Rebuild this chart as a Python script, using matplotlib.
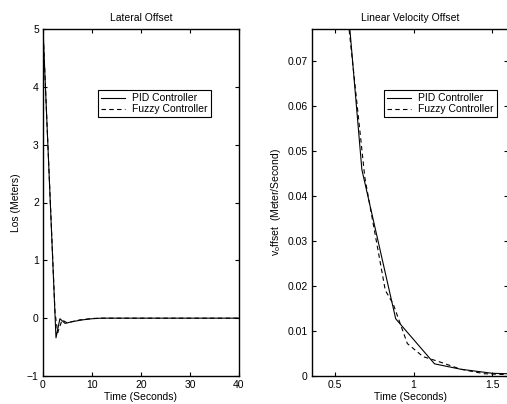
import matplotlib
matplotlib.use('Agg')
import matplotlib.pyplot as plt

plt.rcParams['font.family'] = ['Liberation Sans', 'DejaVu Sans']
plt.rcParams['font.size'] = 7.5
plt.rcParams['mathtext.fontset'] = 'custom'
plt.rcParams['mathtext.rm'] = 'Liberation Sans'

W, H = 507, 404
FS = 7.5

# lateral offset (left panel)
lat_t_pid = [0, 2.65, 3.45, 4.5, 6, 8, 10, 12, 40]
lat_y_pid = [5, -0.34, -0.01, -0.09, -0.06, -0.03, -0.01, 0, 0]
lat_t_fuzzy = [0, 2.45, 3.0, 3.9, 4.9, 7.5, 10, 12, 40]
lat_y_fuzzy = [5, 0.1, -0.25, -0.03, -0.08, -0.03, -0.005, 0, 0]

# linear velocity offset (right panel)
vel_t_pid = [0.45, 0.671, 0.886, 1.133, 1.3, 1.5, 1.6]
vel_y_pid = [0.136, 0.0458, 0.0127, 0.0027, 0.0015, 0.0006, 0.0005]
vel_t_fuzzy = [0.55, 0.69, 0.82, 0.87, 0.96, 1.06, 1.16, 1.3, 1.45, 1.6]
vel_y_fuzzy = [0.090, 0.044, 0.019, 0.016, 0.0072, 0.0043, 0.0032, 0.0015, 0.0005, 0.0003]

labels = ['PID Controller', 'Fuzzy Controller']


def style_axes(ax):
    ax.tick_params(direction='in', top=True, right=True, length=3, width=0.8,
                   labelsize=FS, pad=3)
    for sp in ax.spines.values():
        sp.set_linewidth(1.0)


def add_legend(ax, x0):
    leg = ax.legend(loc='upper left', bbox_to_anchor=(x0, 0.824), fontsize=FS,
                    frameon=True, fancybox=False, edgecolor='k', framealpha=1,
                    handlelength=2.3, borderpad=0.3, labelspacing=0.1,
                    handletextpad=0.7, borderaxespad=0)
    leg.get_frame().set_linewidth(0.8)


fig = plt.figure(figsize=(W / 100, H / 100), dpi=100)

ax1 = fig.add_axes([43 / W, (H - 376) / H, 196 / W, 347 / H])
ax1.plot(lat_t_pid, lat_y_pid, 'k-', lw=0.8, label=labels[0])
ax1.plot(lat_t_fuzzy, lat_y_fuzzy, 'k--', lw=0.8, dashes=(4, 3), label=labels[1])
ax1.set_xlim(0, 40)
ax1.set_ylim(-1, 5)
ax1.set_xticks([0, 10, 20, 30, 40])
ax1.set_yticks([-1, 0, 1, 2, 3, 4, 5])
ax1.set_title('Lateral Offset', fontsize=FS, pad=6)
ax1.set_xlabel('Time (Seconds)', fontsize=FS, labelpad=1)
ax1.set_ylabel('Los (Meters)', fontsize=FS, labelpad=4)
style_axes(ax1)
add_legend(ax1, 0.28)

ax2 = fig.add_axes([312 / W, (H - 376) / H, 196 / W, 347 / H])
ax2.plot(vel_t_pid, vel_y_pid, 'k-', lw=0.8, label=labels[0])
ax2.plot(vel_t_fuzzy, vel_y_fuzzy, 'k--', lw=0.8, dashes=(4, 3), label=labels[1])
ax2.set_xlim(0.354, 1.6)
ax2.set_ylim(0, 0.077)
ax2.set_xticks([0.5, 1, 1.5])
ax2.set_xticklabels(['0.5', '1', '1.5'])
ax2.set_yticks([0, 0.01, 0.02, 0.03, 0.04, 0.05, 0.06, 0.07])
ax2.set_yticklabels(['0', '0.01', '0.02', '0.03', '0.04', '0.05', '0.06', '0.07'])
ax2.set_title('Linear Velocity Offset', fontsize=FS, pad=6)
ax2.set_xlabel('Time (Seconds)', fontsize=FS, labelpad=1)
ax2.set_ylabel(r'v$_{\rm o}$ffset  (Meter/Second)', fontsize=FS, labelpad=3)
style_axes(ax2)
add_legend(ax2, 0.367)

fig.savefig('out.png', dpi=100)
